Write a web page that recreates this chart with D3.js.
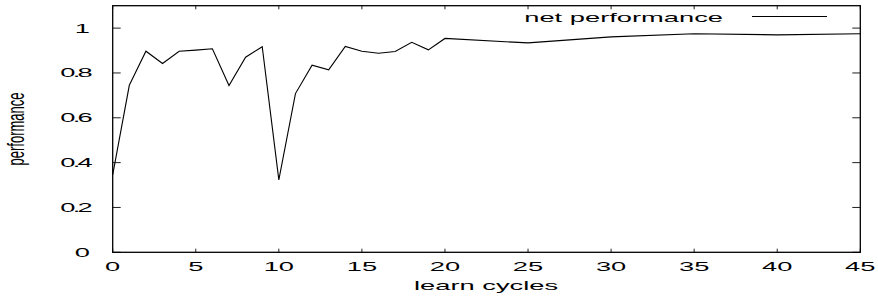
<!DOCTYPE html>
<html>
<head>
<meta charset="utf-8">
<script src="https://cdn.jsdelivr.net/npm/d3@7"></script>
<style>
  html, body { margin: 0; padding: 0; background: #fff; }
  text { font-family: "Liberation Sans", Arial, Helvetica, sans-serif; fill: #000; }
</style>
</head>
<body>
<svg id="chart" width="878" height="296"></svg>
<script>
// ---- data ----
const cycles = [0,1,2,3,4,5,6,7,8,9,10,11,12,13,14,15,16,17,18,19,20,25,30,35,40,45];
const performance = [0.345,0.745,0.897,0.842,0.897,0.902,0.908,0.744,0.870,0.917,0.323,0.708,0.835,0.814,0.918,0.897,0.888,0.896,0.937,0.903,0.954,0.934,0.961,0.975,0.970,0.975];
const xTicks = [0,5,10,15,20,25,30,35,40,45];
const yTicks = [0,0.2,0.4,0.6,0.8,1];
const xTickLabels = ["0","5","10","15","20","25","30","35","40","45"];
const yTickLabels = ["0","0.2","0.4","0.6","0.8","1"];
const seriesName = "net performance";
const xTitle = "learn cycles";
const yTitle = "performance";

// ---- layout ----
const L = 112.7, R = 860.3, T = 5.7, B = 252.3;
const SX = 2.1, FS = 13;
const svg = d3.select("#chart");
const x = d3.scaleLinear().domain([0,45]).range([L,R]);
const y = d3.scaleLinear().domain([0,1.1]).range([B,T]);

// ticks (inward, mirrored)
const tickCol = "#222";
const g = svg.append("g");
xTicks.forEach(v => {
  g.append("line").attr("x1",x(v)).attr("x2",x(v)).attr("y1",B).attr("y2",B-3.6).attr("stroke",tickCol).attr("stroke-width",1);
  g.append("line").attr("x1",x(v)).attr("x2",x(v)).attr("y1",T).attr("y2",T+3.6).attr("stroke",tickCol).attr("stroke-width",1);
});
yTicks.forEach(v => {
  g.append("line").attr("x1",L).attr("x2",L+8).attr("y1",y(v)).attr("y2",y(v)).attr("stroke",tickCol).attr("stroke-width",1);
  g.append("line").attr("x1",R).attr("x2",R-8).attr("y1",y(v)).attr("y2",y(v)).attr("stroke",tickCol).attr("stroke-width",1);
});

// frame
svg.append("rect").attr("x",L).attr("y",T).attr("width",R-L).attr("height",B-T)
  .attr("fill","none").attr("stroke","#000").attr("stroke-width",1.3);

// tick labels
xTicks.forEach((v,i) => {
  svg.append("text").attr("transform",`translate(${x(v)},270.7) scale(${SX},1)`)
    .attr("text-anchor","middle").attr("font-size",FS).text(xTickLabels[i]);
});
yTicks.forEach((v,i) => {
  const s = yTickLabels[i];
  svg.append("text").attr("transform",`translate(90,${y(v)+4.4}) scale(${SX},1)`)
    .attr("text-anchor","end").attr("font-size",FS)
    .attr("letter-spacing", s.includes(".") ? -1.3 : 0)
    .text(s);
});

// axis titles
svg.append("text").attr("transform",`translate(486,290) scale(${SX},1)`)
  .attr("text-anchor","middle").attr("font-size",FS).text(xTitle);
svg.append("text").attr("transform",`translate(24,129) scale(1.9,1) rotate(-90)`)
  .attr("text-anchor","middle").attr("font-size",FS).text(yTitle);

// legend
svg.append("text").attr("transform",`translate(723,21.5) scale(${SX},1)`)
  .attr("text-anchor","end").attr("font-size",FS).text(seriesName);
svg.append("line").attr("x1",752).attr("x2",827).attr("y1",16.5).attr("y2",16.5)
  .attr("stroke","#000").attr("stroke-width",1);

// series line
const line = d3.line().x((d,i)=>x(cycles[i])).y(d=>y(d));
svg.append("path").datum(performance).attr("d",line)
  .attr("fill","none").attr("stroke","#000").attr("stroke-width",1.1).attr("stroke-linejoin","miter");
</script>
</body>
</html>
